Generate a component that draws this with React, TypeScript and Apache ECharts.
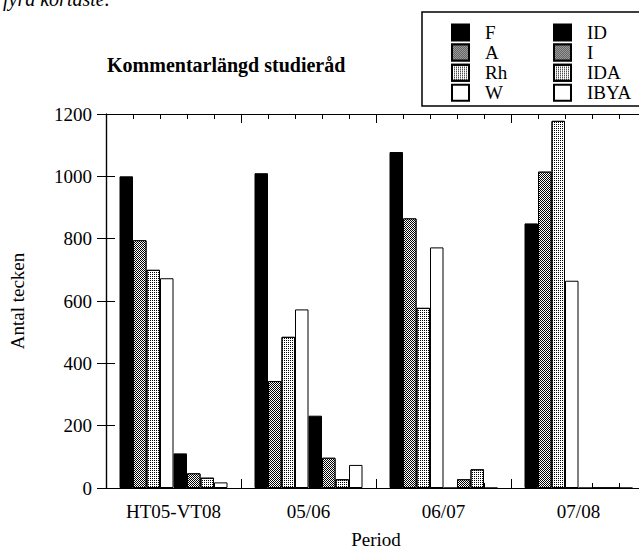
import React, { useEffect, useRef } from 'react';
import * as echarts from 'echarts';

const categories = ['HT05-VT08', '05/06', '06/07', '07/08'];
const seriesNames = ['F', 'A', 'Rh', 'W', 'ID', 'I', 'IDA', 'IBYA'];
const legendLeft = ['F', 'A', 'Rh', 'W'];
const legendRight = ['ID', 'I', 'IDA', 'IBYA'];

const F = [1000, 1010, 1078, 849];
const A = [795, 343, 865, 1015];
const Rh = [700, 485, 578, 1178];
const W = [673, 573, 772, 665];
const ID = [111, 232, 0, 0];
const I = [47, 97, 28, 0];
const IDA = [33, 28, 60, 0];
const IBYA = [18, 74, 0, 0];

const yMin = 0;
const yMax = 1200;
const yInterval = 200;

export default function App() {
  const ref = useRef<HTMLDivElement>(null);

  useEffect(() => {
    if (!ref.current) return;
    const chart = echarts.init(ref.current, null, { renderer: 'svg', width: 639, height: 551 });
    const font = 'Liberation Serif';

    const solid = { color: '#000000', borderColor: '#000000', borderWidth: 1 };
    const dark = {
      color: '#000000',
      borderColor: '#000000',
      borderWidth: 1,
      decal: {
        symbol: 'rect',
        symbolSize: 1,
        color: '#ffffff',
        dashArrayX: [[1, 1], [0, 1, 1, 0]],
        dashArrayY: [1, 0],
      },
    };
    const light = {
      color: '#ffffff',
      borderColor: '#000000',
      borderWidth: 1,
      decal: {
        symbol: 'rect',
        symbolSize: 1,
        color: '#000000',
        dashArrayX: [1, 1],
        dashArrayY: [1, 1],
      },
    };
    const white = { color: '#ffffff', borderColor: '#000000', borderWidth: 1 };
    const styles = [solid, dark, light, white];
    const allData = [F, A, Rh, W, ID, I, IDA, IBYA];

    const series = seriesNames.map((name, i) => ({
      name,
      type: 'bar',
      xAxisIndex: 0,
      yAxisIndex: 0,
      data: allData[i],
      barGap: '0%',
      barCategoryGap: '20%',
      itemStyle: styles[i % 4],
      emphasis: { disabled: true },
      silent: true,
    }));

    const tickAxisCommon = {
      type: 'value',
      min: 0,
      max: 40,
      interval: 10,
      axisLabel: { show: false },
      splitLine: { show: false },
      axisTick: { show: true, inside: true, length: 9, lineStyle: { color: '#000', width: 1 } },
      minorTick: { show: true, splitNumber: 5, length: 5, lineStyle: { color: '#000', width: 1 } },
      minorSplitLine: { show: false },
    };

    const legendCommon = {
      orient: 'vertical',
      top: 23,
      itemWidth: 17,
      itemHeight: 16,
      itemGap: 1.1,
      icon: 'rect',
      padding: 0,
      selectedMode: false,
      textStyle: {
        fontFamily: font,
        fontSize: 19,
        color: '#000',
        padding: [0, 0, 0, 11],
      },
    };

    chart.setOption({
      animation: false,
      backgroundColor: '#ffffff',
      title: {
        text: 'Kommentarlängd studieråd',
        left: 107,
        top: 55,
        padding: 0,
        textStyle: { fontFamily: font, fontSize: 20, fontWeight: 'bold', color: '#000' },
      },
      legend: [
        { ...legendCommon, left: 451, data: legendLeft },
        { ...legendCommon, left: 553, data: legendRight },
      ],
      graphic: [
        {
          type: 'rect',
          shape: { x: 422, y: 12, width: 240, height: 94 },
          style: { fill: 'none', stroke: '#000', lineWidth: 1.5 },
          silent: true,
        },
        {
          type: 'text',
          x: 3,
          y: -1,
          style: {
            text: 'fyra kortaste.',
            fontFamily: font,
            fontStyle: 'italic',
            fontSize: 20,
            fill: '#000',
            verticalAlign: 'middle',
          },
          silent: true,
        },
      ],
      grid: { left: 106, top: 114, width: 540, height: 374, containLabel: false, outerBoundsMode: 'none' },
      xAxis: [
        {
          type: 'category',
          data: categories,
          position: 'bottom',
          axisLine: { show: true, lineStyle: { color: '#000', width: 1.2 } },
          axisTick: { show: false },
          splitLine: { show: false },
          axisLabel: { fontFamily: font, fontSize: 19, color: '#000', margin: 14 },
          name: 'Period',
          nameLocation: 'middle',
          nameGap: 42,
          nameTextStyle: { fontFamily: font, fontSize: 19, color: '#000' },
        },
        { ...tickAxisCommon, position: 'bottom', axisLine: { show: false } },
        { ...tickAxisCommon, position: 'top', axisLine: { show: true, lineStyle: { color: '#000', width: 1.2 } } },
      ],
      yAxis: [
        {
          type: 'value',
          min: yMin,
          max: yMax,
          interval: yInterval,
          position: 'left',
          axisLine: { show: true, lineStyle: { color: '#000', width: 1.2 } },
          axisTick: { show: true, inside: true, length: 9, lineStyle: { color: '#000', width: 1 } },
          splitLine: { show: false },
          axisLabel: {
            fontFamily: font,
            fontSize: 19,
            color: '#000',
            margin: 14,
            formatter: (v: number) => String(v),
          },
          name: 'Antal tecken',
          nameLocation: 'middle',
          nameGap: 79,
          nameTextStyle: { fontFamily: font, fontSize: 19, color: '#000' },
        },
        {
          type: 'value',
          min: yMin,
          max: yMax,
          interval: yInterval,
          position: 'right',
          axisLine: { show: true, lineStyle: { color: '#000', width: 1.2 } },
          axisTick: { show: true, inside: true, length: 9, lineStyle: { color: '#000', width: 1 } },
          splitLine: { show: false },
          axisLabel: { show: false },
        },
      ],
      series,
    });

    return () => chart.dispose();
  }, []);

  return (
    <div
      ref={ref}
      style={{ position: 'fixed', left: 0, top: 0, width: 639, height: 551, background: '#fff' }}
    />
  );
}
